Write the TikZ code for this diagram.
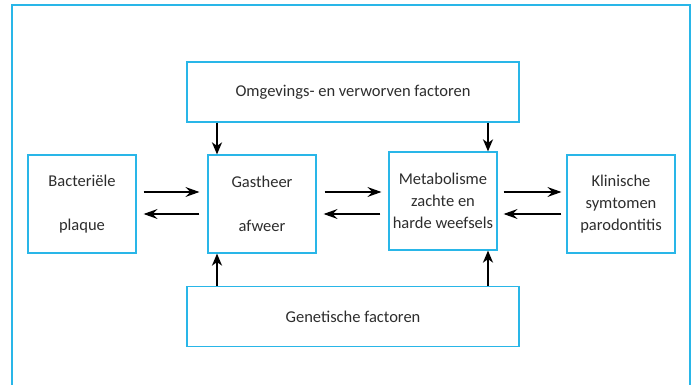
\documentclass[tikz,border=0pt]{standalone}
\usepackage{fontspec}
\setmainfont{Carlito}
\usepackage{xcolor}
\usetikzlibrary{arrows.meta}
\definecolor{frameblue}{RGB}{41,182,232}
\definecolor{textgrey}{RGB}{45,45,45}

\begin{document}
\begin{tikzpicture}[x=1pt, y=-1pt,
      font=\fontsize{16.5}{22}\selectfont, text=textgrey,
      box/.style={draw=frameblue, line width=1.2pt, align=center,
          minimum width=108pt, minimum height=98pt, inner sep=0pt},
      wide box/.style={box, minimum width=332pt, minimum height=60pt},
      flow/.style={-{Stealth[length=14pt, width=10pt, inset=5pt]}, line width=1.1pt, black},
      feed/.style={-{Stealth[length=12pt, width=10pt, inset=3.5pt]}, line width=1.8pt, black}]
    \useasboundingbox (0,0) rectangle (694,385);
    % frame
    \draw[frameblue, line width=1.2pt] (12,385) -- (12,5) -- (690,5) -- (690,385);
    % boxes
    \node[wide box] (omg) at (353,92) {Omgevings- en verworven factoren};
    \node[wide box] (gen) at (353,316.5) {Genetische factoren};
    \node[box] (bact) at (82,204) {Bacteriële\\~\\plaque};
    \node[box] (gast) at (262,204) {Gastheer\\~\\afweer};
    \node[box] (meta) at (443,201) {Metabolisme\\zachte en\\harde weefsels};
    \node[box] (klin) at (621,204) {Klinische\\symtomen\\parodontitis};
    % horizontal arrows
    \draw[flow, shorten <=7pt, shorten >=8pt]
      ([yshift=12pt]bact.east) -- ([yshift=12pt]bact.east -| gast.west);
    \draw[flow, shorten <=8pt, shorten >=7pt]
      ([yshift=-10pt]bact.east -| gast.west) -- ([yshift=-10pt]bact.east);
    \draw[flow, shorten <=8pt, shorten >=7pt]
      ([yshift=12pt]gast.east) -- ([yshift=12pt]gast.east -| meta.west);
    \draw[flow, shorten <=8pt, shorten >=7pt]
      ([yshift=-10pt]gast.east -| meta.west) -- ([yshift=-10pt]gast.east);
    \draw[flow, shorten <=6pt, shorten >=5pt]
      ([yshift=12pt]klin.west -| meta.east) -- ([yshift=12pt]klin.west);
    \draw[flow, shorten <=5pt, shorten >=6pt]
      ([yshift=-10pt]klin.west) -- ([yshift=-10pt]klin.west -| meta.east);
    % vertical arrows
    \draw[feed] ([xshift=-45pt]gast.north |- omg.south) -- ([xshift=-45pt]gast.north);
    \draw[feed] ([xshift=45pt]meta.north |- omg.south) -- ([xshift=45pt]meta.north);
    \draw[feed] ([xshift=-45pt]gast.south |- gen.north) -- ([xshift=-45pt]gast.south);
    \draw[feed] ([xshift=45pt]meta.south |- gen.north) -- ([xshift=45pt]meta.south);
  \end{tikzpicture}
\end{document}
